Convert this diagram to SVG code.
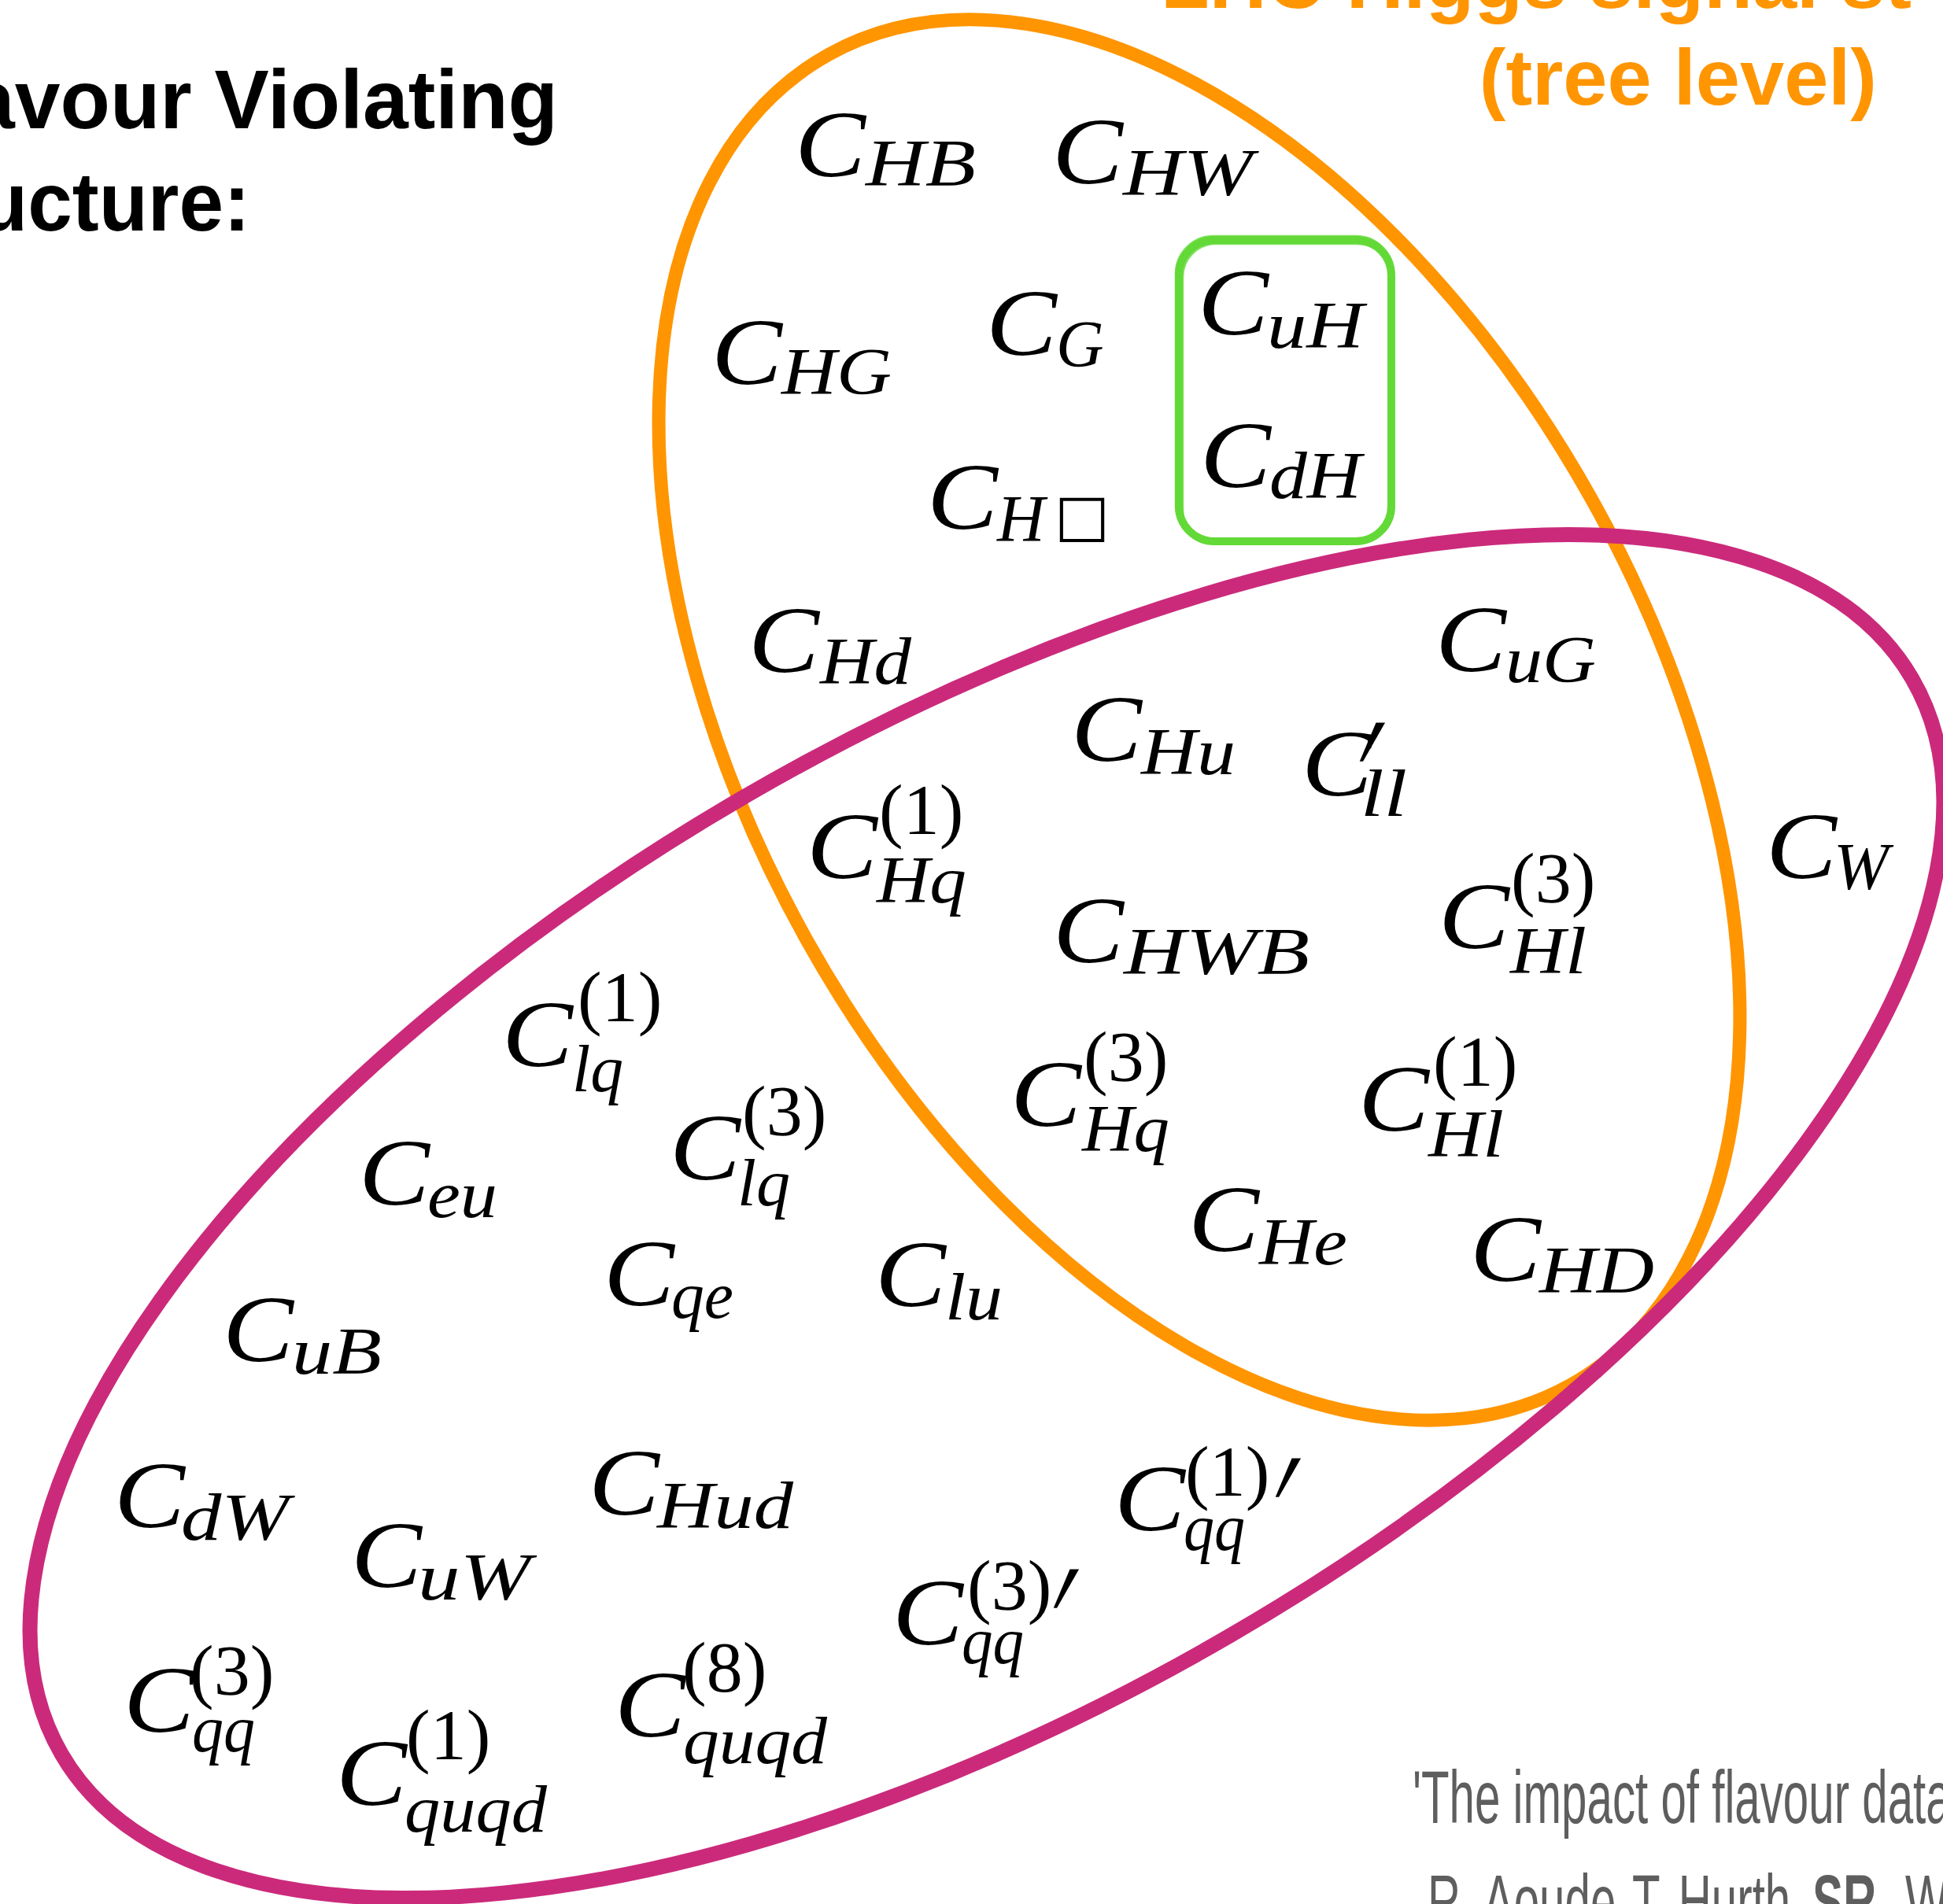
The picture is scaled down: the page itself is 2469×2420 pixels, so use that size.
<svg xmlns="http://www.w3.org/2000/svg" width="2469" height="2420" viewBox="0 0 2469 2420">
<style>
.c{font-family:"Liberation Serif","DejaVu Serif",serif;font-style:italic;font-size:120px;fill:#000}
.s{font-family:"Liberation Serif","DejaVu Serif",serif;font-style:italic;font-size:84px;fill:#000}
.p{font-family:"Liberation Serif","DejaVu Serif",serif;font-style:normal;font-size:92px;fill:#000}
.pr{font-family:"Liberation Serif","DejaVu Serif",serif;font-style:normal;font-size:200px;fill:#000}
.bx{font-family:"DejaVu Sans",sans-serif;font-size:74px;fill:#000}
.title{font-family:"Liberation Sans",Arial,sans-serif;font-weight:bold;font-size:106px;fill:#000}
.otitle{font-family:"Liberation Sans",Arial,sans-serif;font-weight:bold;font-size:101px;fill:#FF9500}
.ref{font-family:"Liberation Sans",Arial,sans-serif;font-size:94px;fill:#5E5E5E}
.set{fill:none}
</style>
<rect width="2469" height="2420" fill="#fff"/>
<g id="sets">
<ellipse id="set-higgs" class="set" cx="1524" cy="915" rx="968" ry="572" transform="rotate(60.85 1524 915)" stroke="#FF9500" stroke-width="17"/>
<ellipse id="set-flavour" class="set" cx="1254" cy="1546" rx="1360" ry="616" transform="rotate(-30.17 1254 1546)" stroke="#CB2A7B" stroke-width="19"/>
<g id="green-box" fill="none" stroke="#63D938">
<rect x="1498" y="305" width="270" height="383" rx="45" stroke-width="10"/>
<rect x="1494" y="300" width="277" height="390" rx="48" stroke-width="2.5" opacity="0.8"/>
<rect x="1503" y="310" width="264" height="380" rx="42" stroke-width="2.5" opacity="0.8"/>
</g>
</g>
<g id="titles">
<text class="title" x="-39" y="163" textLength="748" lengthAdjust="spacingAndGlyphs">avour Violating</text>
<text class="title" x="-27" y="293" textLength="345" lengthAdjust="spacingAndGlyphs">ucture:</text>
<text class="otitle" x="1475" y="10">LHC Higgs signal st</text>
<text class="otitle" x="2385" y="133" text-anchor="end">(tree level)</text>
<text class="ref" transform="matrix(0.62 0 0 1 0 0)" x="2895" y="2317">'The impact of flavour data</text>
<text class="ref" transform="matrix(0.62 0 0 1 0 0)" y="2449"><tspan x="2926">R. </tspan><tspan x="3040">Aoude, </tspan><tspan x="3345">T. </tspan><tspan x="3440">Hurth, </tspan><tspan x="3715" font-weight="bold">SR, </tspan><tspan x="3905">W</tspan></text>
</g>
<g id="labels">
<g id="C_HB"><text class="c" x="1010" y="224" textLength="90" lengthAdjust="spacingAndGlyphs">C</text><text class="s" x="1100" y="236" textLength="140" lengthAdjust="spacingAndGlyphs">HB</text></g>
<g id="C_HW"><text class="c" x="1337" y="233" textLength="90" lengthAdjust="spacingAndGlyphs">C</text><text class="s" x="1427" y="248" textLength="165" lengthAdjust="spacingAndGlyphs">HW</text></g>
<g id="C_HG"><text class="c" x="904" y="488" textLength="90" lengthAdjust="spacingAndGlyphs">C</text><text class="s" x="993" y="501" textLength="140" lengthAdjust="spacingAndGlyphs">HG</text></g>
<g id="C_G"><text class="c" x="1253" y="451" textLength="90" lengthAdjust="spacingAndGlyphs">C</text><text class="s" x="1342" y="466">G</text></g>
<g id="C_uH"><text class="c" x="1522" y="425" textLength="90" lengthAdjust="spacingAndGlyphs">C</text><text class="s" x="1610" y="442" textLength="123" lengthAdjust="spacingAndGlyphs">uH</text></g>
<g id="C_dH"><text class="c" x="1525" y="619" textLength="90" lengthAdjust="spacingAndGlyphs">C</text><text class="s" x="1613" y="633" textLength="117" lengthAdjust="spacingAndGlyphs">dH</text></g>
<g id="C_HBox"><text class="c" x="1178" y="672" textLength="90" lengthAdjust="spacingAndGlyphs">C</text><text class="s" x="1267" y="688">H</text><text class="bx" x="1340" y="680">□</text></g>
<g id="C_Hd"><text class="c" x="951" y="854" textLength="90" lengthAdjust="spacingAndGlyphs">C</text><text class="s" x="1042" y="869" textLength="116" lengthAdjust="spacingAndGlyphs">Hd</text></g>
<g id="C_Hu"><text class="c" x="1361" y="967" textLength="90" lengthAdjust="spacingAndGlyphs">C</text><text class="s" x="1450" y="984" textLength="120" lengthAdjust="spacingAndGlyphs">Hu</text></g>
<g id="C_ll"><text class="c" x="1654" y="1011" textLength="90" lengthAdjust="spacingAndGlyphs">C</text><text class="pr" transform="translate(1731 943) skewX(-20) scale(0.6 1.05)" y="108">′</text><text class="s" x="1729" y="1037" textLength="59" lengthAdjust="spacingAndGlyphs">ll</text></g>
<g id="C_uG"><text class="c" x="1824" y="853" textLength="90" lengthAdjust="spacingAndGlyphs">C</text><text class="s" x="1913" y="867" textLength="115" lengthAdjust="spacingAndGlyphs">uG</text></g>
<g id="C_W"><text class="c" x="2244" y="1116" textLength="90" lengthAdjust="spacingAndGlyphs">C</text><text class="s" x="2330" y="1130">W</text></g>
<g id="C_Hq1"><text class="c" x="1025" y="1116" textLength="90" lengthAdjust="spacingAndGlyphs">C</text><text class="p" x="1117" y="1060">(1)</text><text class="s" x="1114" y="1147" textLength="114" lengthAdjust="spacingAndGlyphs">Hq</text></g>
<g id="C_HWB"><text class="c" x="1338" y="1223" textLength="90" lengthAdjust="spacingAndGlyphs">C</text><text class="s" x="1428" y="1238" textLength="236" lengthAdjust="spacingAndGlyphs">HWB</text></g>
<g id="C_Hl3"><text class="c" x="1828" y="1205" textLength="90" lengthAdjust="spacingAndGlyphs">C</text><text class="p" x="1920" y="1147">(3)</text><text class="s" x="1919" y="1237" textLength="97" lengthAdjust="spacingAndGlyphs">Hl</text></g>
<g id="C_Hq3"><text class="c" x="1284" y="1431" textLength="90" lengthAdjust="spacingAndGlyphs">C</text><text class="p" x="1377" y="1374">(3)</text><text class="s" x="1375" y="1463" textLength="111" lengthAdjust="spacingAndGlyphs">Hq</text></g>
<g id="C_Hl1"><text class="c" x="1726" y="1437" textLength="90" lengthAdjust="spacingAndGlyphs">C</text><text class="p" x="1821" y="1380">(1)</text><text class="s" x="1815" y="1470" textLength="96" lengthAdjust="spacingAndGlyphs">Hl</text></g>
<g id="C_He"><text class="c" x="1510" y="1590" textLength="90" lengthAdjust="spacingAndGlyphs">C</text><text class="s" x="1600" y="1607" textLength="112" lengthAdjust="spacingAndGlyphs">He</text></g>
<g id="C_HD"><text class="c" x="1868" y="1628" textLength="90" lengthAdjust="spacingAndGlyphs">C</text><text class="s" x="1956" y="1643" textLength="146" lengthAdjust="spacingAndGlyphs">HD</text></g>
<g id="C_lq1"><text class="c" x="638" y="1355" textLength="90" lengthAdjust="spacingAndGlyphs">C</text><text class="p" x="734" y="1298">(1)</text><text class="s" x="727" y="1387" textLength="65" lengthAdjust="spacingAndGlyphs">lq</text></g>
<g id="C_lq3"><text class="c" x="851" y="1499" textLength="90" lengthAdjust="spacingAndGlyphs">C</text><text class="p" x="943" y="1443">(3)</text><text class="s" x="937" y="1532" textLength="67" lengthAdjust="spacingAndGlyphs">lq</text></g>
<g id="C_eu"><text class="c" x="456" y="1531" textLength="90" lengthAdjust="spacingAndGlyphs">C</text><text class="s" x="543" y="1547" textLength="89" lengthAdjust="spacingAndGlyphs">eu</text></g>
<g id="C_qe"><text class="c" x="767" y="1659" textLength="90" lengthAdjust="spacingAndGlyphs">C</text><text class="s" x="853" y="1675" textLength="79" lengthAdjust="spacingAndGlyphs">qe</text></g>
<g id="C_lu"><text class="c" x="1112" y="1660" textLength="90" lengthAdjust="spacingAndGlyphs">C</text><text class="s" x="1201" y="1677" textLength="73" lengthAdjust="spacingAndGlyphs">lu</text></g>
<g id="C_uB"><text class="c" x="283" y="1730" textLength="90" lengthAdjust="spacingAndGlyphs">C</text><text class="s" x="371" y="1746" textLength="114" lengthAdjust="spacingAndGlyphs">uB</text></g>
<g id="C_dW"><text class="c" x="145" y="1941" textLength="90" lengthAdjust="spacingAndGlyphs">C</text><text class="s" x="230" y="1957" textLength="137" lengthAdjust="spacingAndGlyphs">dW</text></g>
<g id="C_uW"><text class="c" x="446" y="2017" textLength="90" lengthAdjust="spacingAndGlyphs">C</text><text class="s" x="531" y="2033" textLength="143" lengthAdjust="spacingAndGlyphs">uW</text></g>
<g id="C_Hud"><text class="c" x="748" y="1925" textLength="90" lengthAdjust="spacingAndGlyphs">C</text><text class="s" x="835" y="1942" textLength="173" lengthAdjust="spacingAndGlyphs">Hud</text></g>
<g id="C_qq3"><text class="c" x="157" y="2201" textLength="90" lengthAdjust="spacingAndGlyphs">C</text><text class="p" x="241" y="2154">(3)</text><text class="s" x="244" y="2226" textLength="80" lengthAdjust="spacingAndGlyphs">qq</text></g>
<g id="C_quqd1"><text class="c" x="427" y="2294" textLength="90" lengthAdjust="spacingAndGlyphs">C</text><text class="p" x="516" y="2236">(1)</text><text class="s" x="514" y="2328" textLength="181" lengthAdjust="spacingAndGlyphs">quqd</text></g>
<g id="C_quqd8"><text class="c" x="781" y="2207" textLength="90" lengthAdjust="spacingAndGlyphs">C</text><text class="p" x="867" y="2150">(8)</text><text class="s" x="868" y="2241" textLength="183" lengthAdjust="spacingAndGlyphs">quqd</text></g>
<g id="C_qq1p"><text class="c" x="1416" y="1945" textLength="90" lengthAdjust="spacingAndGlyphs">C</text><text class="p" x="1506" y="1901">(1)</text><text class="pr" transform="translate(1624 1878) skewX(-20) scale(0.6 1.05)" y="108">′</text><text class="s" x="1504" y="1970" textLength="78" lengthAdjust="spacingAndGlyphs">qq</text></g>
<g id="C_qq3p"><text class="c" x="1134" y="2090" textLength="90" lengthAdjust="spacingAndGlyphs">C</text><text class="p" x="1229" y="2046">(3)</text><text class="pr" transform="translate(1342 2019) skewX(-20) scale(0.6 1.05)" y="108">′</text><text class="s" x="1222" y="2114" textLength="79" lengthAdjust="spacingAndGlyphs">qq</text></g>
</g>
</svg>
